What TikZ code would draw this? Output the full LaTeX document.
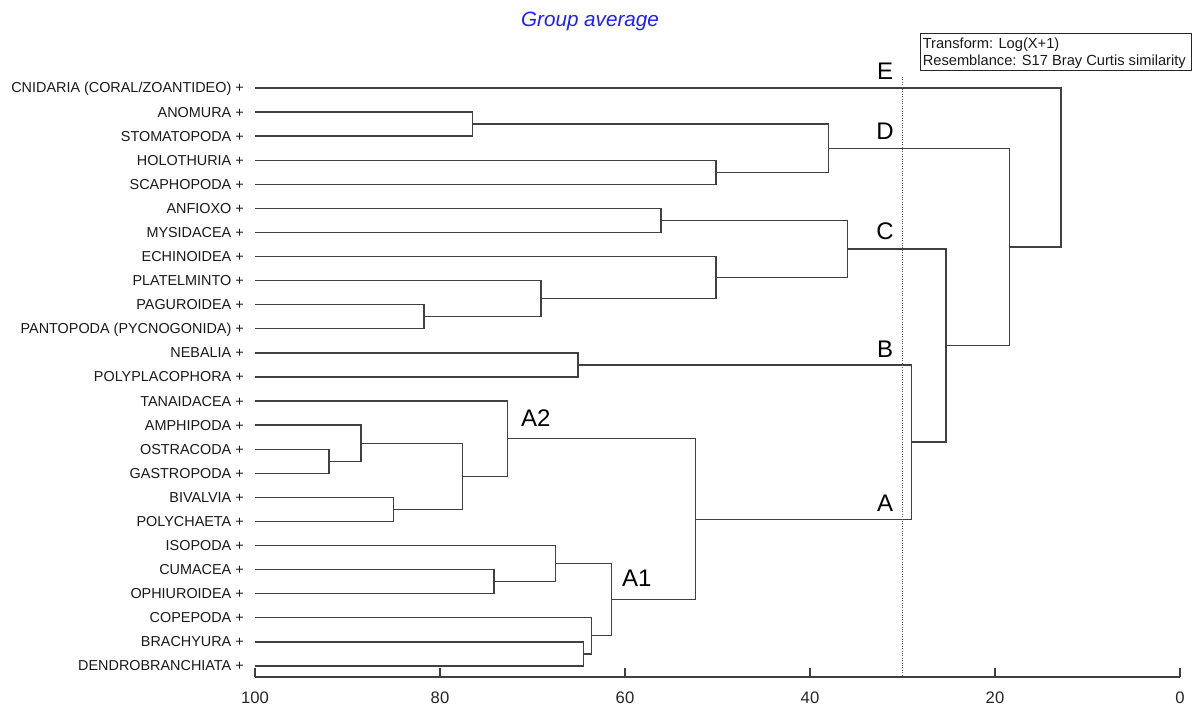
\documentclass[tikz,border=0pt]{standalone}
\usepackage{fontspec}
\setmainfont{Liberation Sans}
\usetikzlibrary{calc}
\definecolor{titleblue}{RGB}{30,30,255}
\newcommand\mrg[4]{%
  \coordinate (tmpx) at (#2,0);
  \coordinate (tmpm) at ($(#3)!0.5!(#4)$);
  \coordinate (#1) at (tmpm -| tmpx);
  \draw[br] (#3) -- (#3 -| #1) -- (#4 -| #1) -- (#4);
}
\begin{document}
\begin{tikzpicture}[x=0.75pt,y=-0.75pt,
  br/.style={draw=black!75, line width=1pt, line join=miter},
  leaf/.style={anchor=base east, inner sep=0pt, font=\fontsize{10.8}{12}\selectfont, text=black!90},
  grp/.style={anchor=center, inner sep=0pt, font=\fontsize{18}{20}\selectfont},
  ticklab/.style={anchor=base, inner sep=0pt, font=\fontsize{12.5}{14}\selectfont, text=black!85},
  legtxt/.style={anchor=base west, inner sep=0pt, font=\fontsize{11}{13}\selectfont, text=black!90},
  cutline/.style={draw=black!65, densely dotted, line width=0.8pt}]
\useasboundingbox (0,0) rectangle (1196,705);

% title
\node[anchor=base, inner sep=0pt, font=\fontsize{15.5}{18}\selectfont\itshape, text=titleblue] (title) at (590,26.5) {Group average};

% legend
\node[draw=black!85, line width=0.8pt, anchor=north west, inner sep=0pt, minimum width=203pt, minimum height=27.5pt] (legend) at (920,33.3) {};
\node[legtxt] (leg1) at (922.5,48.5) {Transform: Log(X+1)};
\node[legtxt] (leg2) at (922.5,65.5) {Resemblance: S17 Bray Curtis similarity};

% leaves
\foreach \nm [count=\i from 0] in {{CNIDARIA (CORAL/ZOANTIDEO)},{ANOMURA},{STOMATOPODA},{HOLOTHURIA},{SCAPHOPODA},{ANFIOXO},{MYSIDACEA},{ECHINOIDEA},{PLATELMINTO},{PAGUROIDEA},{PANTOPODA (PYCNOGONIDA)},{NEBALIA},{POLYPLACOPHORA},{TANAIDACEA},{AMPHIPODA},{OSTRACODA},{GASTROPODA},{BIVALVIA},{POLYCHAETA},{ISOPODA},{CUMACEA},{OPHIUROIDEA},{COPEPODA},{BRACHYURA},{DENDROBRANCHIATA}} {
  \pgfmathsetmacro\yy{88+24.08*\i}
  \node[leaf] (t\i) at (244,\yy+5) {\nm\ +};
  \coordinate (l\i) at (255,\yy);
}

% merges
\mrg{m1}{472.3}{l1}{l2}
\mrg{m2}{716}{l3}{l4}
\mrg{nD}{828.3}{m1}{m2}
\mrg{m3}{661}{l5}{l6}
\mrg{m4}{424}{l9}{l10}
\mrg{m5}{541}{l8}{m4}
\mrg{m6}{716}{l7}{m5}
\mrg{nC}{847.7}{m3}{m6}
\mrg{nB}{578}{l11}{l12}
\mrg{m7}{329}{l15}{l16}
\mrg{m8}{361}{l14}{m7}
\mrg{m9}{393.3}{l17}{l18}
\mrg{m10}{462.2}{m8}{m9}
\mrg{nA2}{507.3}{l13}{m10}
\mrg{m11}{494}{l20}{l21}
\mrg{m12}{555.7}{l19}{m11}
\mrg{m13}{583.7}{l23}{l24}
\mrg{m14}{591.3}{l22}{m13}
\mrg{nA1}{611.7}{m12}{m14}
\mrg{nA}{695.7}{nA2}{nA1}
\mrg{nAB}{911.7}{nB}{nA}
\mrg{nCAB}{946}{nC}{nAB}
\mrg{nDCAB}{1009.3}{nD}{nCAB}
\mrg{root}{1061}{l0}{nDCAB}

% cut line
\coordinate (cutT) at (902.7,77);
\coordinate (cutB) at (902.7,677);
\draw[cutline] (cutT) -- (cutB);

% group labels
\node[grp] (labE) at (885,71.3) {E};
\node[grp] (labD) at (885,130.8) {D};
\node[grp] (labC) at (885,231.7) {C};
\node[grp] (labB) at (885,349.7) {B};
\node[grp] (labA) at (885,502.8) {A};
\node[grp] (labA2) at (535.8,417.8) {A2};
\node[grp] (labA1) at (636.7,578) {A1};

% axis
\foreach \v [count=\k from 0] in {100,80,60,40,20,0} {
  \coordinate (tk\k) at (255+185*\k,677);
  \coordinate (tt\k) at (255+185*\k,668);
  \draw[br] (tk\k) -- (tt\k);
  \node[ticklab] (tl\k) at (255+185*\k,703) {\v};
}
\draw[br] (tk0) -- (tk5);
\end{tikzpicture}
\end{document}
